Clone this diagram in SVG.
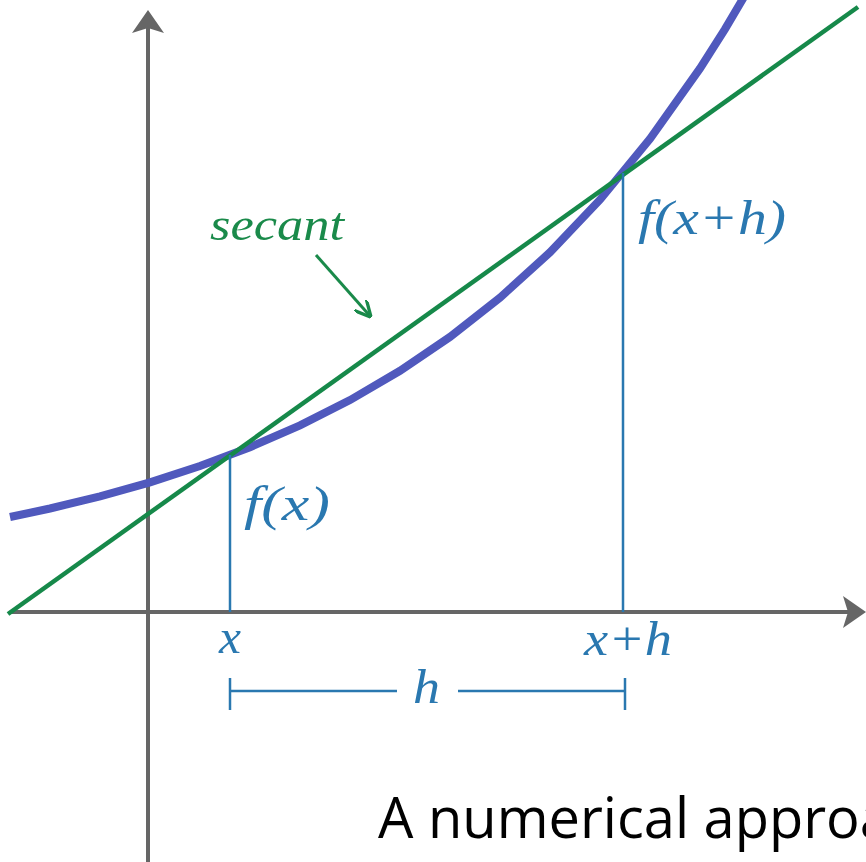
<svg xmlns="http://www.w3.org/2000/svg" width="866" height="862" viewBox="0 0 866 862">
<style>
.axis{stroke:#666;stroke-width:4;fill:none}
.thin{stroke:#2a78b0;stroke-width:2.5;fill:none}
.lbl{font-family:"Liberation Serif",serif;font-style:italic;fill:#2a78b0;font-size:48px}
</style>
<defs>
<marker id="ah" viewBox="0 0 10 10" refX="9" refY="5" markerWidth="5.5" markerHeight="5.5" orient="auto"><path d="M0,0 L10,5 L0,10" fill="none" stroke="#1a8a4a" stroke-width="2"/></marker>
</defs>
<rect width="866" height="862" fill="#fff"/>
<g id="axes">
<line class="axis" x1="148" y1="28" x2="148" y2="862"/>
<path d="M148,10 L164,33 L148,28 L132,33 Z" fill="#666"/>
<line class="axis" x1="10" y1="612" x2="850" y2="612"/>
<path d="M866,612 L843,596 L848,612 L843,628 Z" fill="#666"/>
</g>
<g id="curve">
<polyline fill="none" stroke="#5059bd" stroke-width="8" points="10,517 50,508.5 100,496.4 150,482.3 200,466 250,447.2 300,425.3 350,400.1 400,370.8 450,336.9 500,297.7 550,252.3 600,199.7 650,138.9 700,68.4 725,29.1 750,-13.2"/>
</g>
<g id="secant">
<line x1="8" y1="614" x2="858" y2="7" stroke="#16894a" stroke-width="4.5"/>
</g>
<g id="guides">
<line class="thin" x1="230" y1="455" x2="230" y2="612"/>
<line class="thin" x1="623" y1="173" x2="623" y2="612"/>
<line class="thin" x1="230" y1="691" x2="397" y2="691" stroke-width="3.5"/>
<line class="thin" x1="458" y1="691" x2="625" y2="691" stroke-width="3.5"/>
<line class="thin" x1="230" y1="678" x2="230" y2="710" stroke-width="5"/>
<line class="thin" x1="625" y1="678" x2="625" y2="710" stroke-width="5"/>
</g>
<g id="connectors">
<line x1="316" y1="255" x2="370" y2="316" stroke="#1a8a4a" stroke-width="3" marker-end="url(#ah)"/>
</g>
<g id="labels">
<text x="210" y="240" font-family="Liberation Serif,serif" font-style="italic" font-size="46" fill="#1a8a4a" textLength="134" lengthAdjust="spacingAndGlyphs">secant</text>
<text class="lbl" x="244" y="520" textLength="86" lengthAdjust="spacingAndGlyphs">f(x)</text>
<text class="lbl" x="638" y="234" textLength="148" lengthAdjust="spacingAndGlyphs">f(x+h)</text>
<text class="lbl" x="219" y="653" textLength="22" lengthAdjust="spacingAndGlyphs">x</text>
<text class="lbl" x="584" y="655" textLength="88" lengthAdjust="spacingAndGlyphs">x+h</text>
<text class="lbl" x="413" y="703" textLength="27" lengthAdjust="spacingAndGlyphs">h</text>
<text x="378" y="838" font-family="Open Sans,sans-serif" font-size="56" fill="#000">A numerical approach</text>
</g>
</svg>
